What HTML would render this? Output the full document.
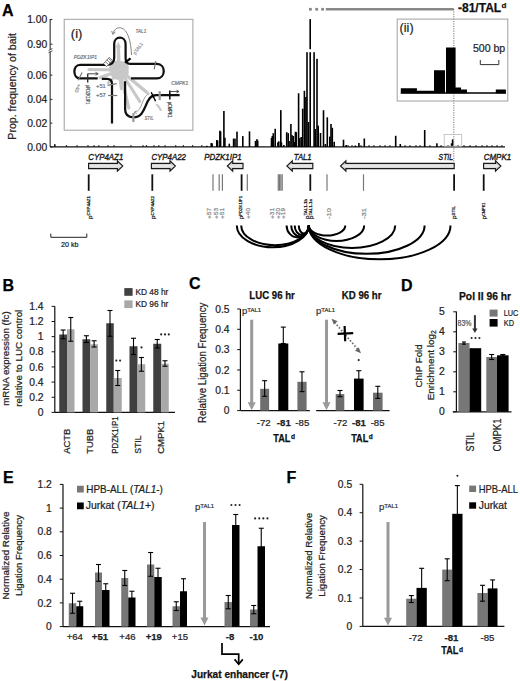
<!DOCTYPE html>
<html><head><meta charset="utf-8"><style>
html,body{margin:0;padding:0;background:#fff;}
body{width:520px;height:681px;overflow:hidden;font-family:"Liberation Sans",sans-serif;}
svg{display:block;}
</style></head><body>
<svg width="520" height="681" viewBox="0 0 520 681" font-family='"Liberation Sans", sans-serif'><text x="2" y="15.5" font-size="16" font-weight="bold" stroke="#000" stroke-width="0.25" >A</text>
<line x1="50.2" y1="19" x2="50.2" y2="49.3" stroke="#666" stroke-width="1.5" />
<line x1="50.2" y1="51.6" x2="50.2" y2="147" stroke="#666" stroke-width="1.5" />
<line x1="48.6" y1="50.4" x2="52.4" y2="48.6" stroke="#444" stroke-width="1" />
<line x1="48.6" y1="52.6" x2="52.4" y2="50.8" stroke="#444" stroke-width="1" />
<line x1="50.2" y1="19.5" x2="52.4" y2="19.5" stroke="#333" stroke-width="1.1" />
<text x="47.2" y="23.1" font-size="10.3" text-anchor="end" fill="#222" stroke="#222" stroke-width="0.22" >1.00</text>
<line x1="50.2" y1="44.2" x2="52.4" y2="44.2" stroke="#333" stroke-width="1.1" />
<text x="47.2" y="47.8" font-size="10.3" text-anchor="end" fill="#222" stroke="#222" stroke-width="0.22" >0.90</text>
<line x1="50.2" y1="75.1" x2="52.4" y2="75.1" stroke="#333" stroke-width="1.1" />
<text x="47.2" y="78.7" font-size="10.3" text-anchor="end" fill="#222" stroke="#222" stroke-width="0.22" >0.06</text>
<line x1="50.2" y1="99.4" x2="52.4" y2="99.4" stroke="#333" stroke-width="1.1" />
<text x="47.2" y="103" font-size="10.3" text-anchor="end" fill="#222" stroke="#222" stroke-width="0.22" >0.04</text>
<line x1="50.2" y1="123.1" x2="52.4" y2="123.1" stroke="#333" stroke-width="1.1" />
<text x="47.2" y="126.7" font-size="10.3" text-anchor="end" fill="#222" stroke="#222" stroke-width="0.22" >0.02</text>
<line x1="50.2" y1="147" x2="52.4" y2="147" stroke="#333" stroke-width="1.1" />
<text x="47.2" y="150.6" font-size="10.3" text-anchor="end" fill="#222" stroke="#222" stroke-width="0.22" >0.00</text>
<text transform="translate(15.9,86.4) rotate(-90)" font-size="10.6" text-anchor="middle" fill="#222" stroke="#222" stroke-width="0.22" textLength="106.5" lengthAdjust="spacingAndGlyphs" >Prop. frequency of bait</text>
<line x1="50.2" y1="146.9" x2="505" y2="146.9" stroke="#111" stroke-width="1.3" />
<rect x="65.9" y="145.2" width="1.2" height="1.5" fill="#111" />
<rect x="76.4" y="145.2" width="1.2" height="1.5" fill="#111" />
<rect x="87.4" y="145.2" width="1.2" height="1.5" fill="#111" />
<rect x="93.4" y="145.2" width="1.2" height="1.5" fill="#111" />
<rect x="98.2" y="145.2" width="1.2" height="1.5" fill="#111" />
<rect x="107.4" y="145.2" width="1.2" height="1.5" fill="#111" />
<rect x="113.4" y="145.2" width="1.2" height="1.5" fill="#111" />
<rect x="130.4" y="145.2" width="1.2" height="1.5" fill="#111" />
<rect x="142.4" y="145.2" width="1.2" height="1.5" fill="#111" />
<rect x="145.9" y="145.2" width="1.2" height="1.5" fill="#111" />
<rect x="153.4" y="145.2" width="1.2" height="1.5" fill="#111" />
<rect x="158.2" y="145.2" width="1.2" height="1.5" fill="#111" />
<rect x="164.4" y="145.2" width="1.2" height="1.5" fill="#111" />
<rect x="175.1" y="145.2" width="1.2" height="1.5" fill="#111" />
<rect x="182.8" y="145.2" width="1.2" height="1.5" fill="#111" />
<rect x="192" y="145.2" width="1.2" height="1.5" fill="#111" />
<rect x="201.2" y="145.2" width="1.2" height="1.5" fill="#111" />
<rect x="347.4" y="145.2" width="1.2" height="1.5" fill="#111" />
<rect x="351.4" y="145.2" width="1.2" height="1.5" fill="#111" />
<rect x="360.4" y="145.2" width="1.2" height="1.5" fill="#111" />
<rect x="368.4" y="145.2" width="1.2" height="1.5" fill="#111" />
<rect x="373.4" y="145.2" width="1.2" height="1.5" fill="#111" />
<rect x="379.4" y="145.2" width="1.2" height="1.5" fill="#111" />
<rect x="384.4" y="145.2" width="1.2" height="1.5" fill="#111" />
<rect x="389.4" y="145.2" width="1.2" height="1.5" fill="#111" />
<rect x="404.4" y="145.2" width="1.2" height="1.5" fill="#111" />
<rect x="409.4" y="145.2" width="1.2" height="1.5" fill="#111" />
<rect x="415.4" y="145.2" width="1.2" height="1.5" fill="#111" />
<rect x="419.4" y="145.2" width="1.2" height="1.5" fill="#111" />
<rect x="429.4" y="145.2" width="1.2" height="1.5" fill="#111" />
<rect x="440.4" y="145.2" width="1.2" height="1.5" fill="#111" />
<rect x="447.4" y="145.2" width="1.2" height="1.5" fill="#111" />
<rect x="457.4" y="145.2" width="1.2" height="1.5" fill="#111" />
<rect x="463.4" y="145.2" width="1.2" height="1.5" fill="#111" />
<rect x="469.4" y="145.2" width="1.2" height="1.5" fill="#111" />
<rect x="475.4" y="145.2" width="1.2" height="1.5" fill="#111" />
<rect x="481.4" y="145.2" width="1.2" height="1.5" fill="#111" />
<rect x="486.4" y="145.2" width="1.2" height="1.5" fill="#111" />
<rect x="491.4" y="145.2" width="1.2" height="1.5" fill="#111" />
<rect x="496.4" y="145.2" width="1.2" height="1.5" fill="#111" />
<rect x="501.4" y="145.2" width="1.2" height="1.5" fill="#111" />
<rect x="54" y="144.2" width="1.6" height="2.6" fill="#111" />
<rect x="206" y="145.8" width="1.6" height="1.2" fill="#000" />
<rect x="210.4" y="143.1" width="1.6" height="3.9" fill="#000" />
<rect x="211.3" y="143.3" width="1.6" height="3.7" fill="#000" />
<rect x="216" y="140.1" width="1.6" height="6.9" fill="#000" />
<rect x="216.8" y="140.4" width="1.6" height="6.6" fill="#000" />
<rect x="219.1" y="130.7" width="1.6" height="16.3" fill="#000" />
<rect x="219.8" y="131.5" width="1.6" height="15.5" fill="#000" />
<rect x="223.1" y="111" width="1.6" height="36" fill="#000" />
<rect x="224.1" y="137.7" width="1.6" height="9.3" fill="#000" />
<rect x="228.5" y="143.7" width="1.6" height="3.3" fill="#000" />
<rect x="232.8" y="138.6" width="1.6" height="8.4" fill="#000" />
<rect x="234.2" y="138.6" width="1.6" height="8.4" fill="#000" />
<rect x="236.2" y="131.6" width="1.6" height="15.4" fill="#000" />
<rect x="242" y="136.1" width="1.6" height="10.9" fill="#000" />
<rect x="248.7" y="131.4" width="1.6" height="15.6" fill="#000" />
<rect x="254.7" y="140.9" width="1.6" height="6.1" fill="#000" />
<rect x="256.1" y="139.2" width="1.6" height="7.8" fill="#000" />
<rect x="256.9" y="140.5" width="1.6" height="6.5" fill="#000" />
<rect x="270.7" y="138" width="1.6" height="9" fill="#000" />
<rect x="271.5" y="136" width="1.6" height="11" fill="#000" />
<rect x="272.5" y="133.2" width="1.6" height="13.8" fill="#000" />
<rect x="274.4" y="128.8" width="1.6" height="18.2" fill="#000" />
<rect x="277.1" y="142.3" width="1.6" height="4.7" fill="#000" />
<rect x="278" y="141.3" width="1.6" height="5.7" fill="#000" />
<rect x="280" y="110.1" width="1.6" height="36.9" fill="#000" />
<rect x="280.6" y="142.3" width="1.6" height="4.7" fill="#000" />
<rect x="283" y="145" width="1.6" height="2" fill="#000" />
<rect x="285.9" y="132.2" width="1.6" height="14.8" fill="#000" />
<rect x="287.4" y="133.2" width="1.6" height="13.8" fill="#000" />
<rect x="288.3" y="141" width="1.6" height="6" fill="#000" />
<rect x="290.1" y="124" width="1.6" height="23" fill="#000" />
<rect x="291.2" y="135.1" width="1.6" height="11.9" fill="#000" />
<rect x="292.5" y="136" width="1.6" height="11" fill="#000" />
<rect x="293.6" y="141.8" width="1.6" height="5.2" fill="#000" />
<rect x="294.6" y="131.7" width="1.6" height="15.3" fill="#000" />
<rect x="295.5" y="132.2" width="1.6" height="14.8" fill="#000" />
<rect x="297.8" y="93.3" width="1.6" height="53.7" fill="#000" />
<rect x="298.9" y="138" width="1.6" height="9" fill="#000" />
<rect x="300.4" y="137" width="1.6" height="10" fill="#000" />
<rect x="301.9" y="108.7" width="1.6" height="38.3" fill="#000" />
<rect x="303.6" y="90.8" width="1.6" height="56.2" fill="#000" />
<rect x="305.1" y="97" width="1.6" height="50" fill="#000" />
<rect x="306.2" y="52.2" width="1.6" height="94.8" fill="#000" />
<rect x="307.7" y="122" width="1.6" height="25" fill="#000" />
<rect x="309.4" y="52.2" width="1.6" height="94.8" fill="#000" />
<rect x="313.3" y="52.2" width="1.6" height="94.8" fill="#000" />
<rect x="314.4" y="129" width="1.6" height="18" fill="#000" />
<rect x="316.2" y="58.8" width="1.6" height="88.2" fill="#000" />
<rect x="317.4" y="125.6" width="1.6" height="21.4" fill="#000" />
<rect x="319.7" y="133" width="1.6" height="14" fill="#000" />
<rect x="322.7" y="110.2" width="1.6" height="36.8" fill="#000" />
<rect x="324.6" y="144" width="1.6" height="3" fill="#000" />
<rect x="326.5" y="117.3" width="1.6" height="29.7" fill="#000" />
<rect x="329" y="136.6" width="1.6" height="10.4" fill="#000" />
<rect x="330.2" y="124" width="1.6" height="23" fill="#000" />
<rect x="331.5" y="127.8" width="1.6" height="19.2" fill="#000" />
<rect x="333.4" y="141.8" width="1.6" height="5.2" fill="#000" />
<rect x="342.7" y="139.7" width="1.6" height="7.3" fill="#000" />
<rect x="345.4" y="145" width="1.6" height="2" fill="#000" />
<rect x="354.6" y="145.5" width="1.6" height="1.5" fill="#000" />
<rect x="358.1" y="143" width="1.6" height="4" fill="#000" />
<rect x="363.5" y="138.5" width="1.6" height="8.5" fill="#000" />
<rect x="394.9" y="135.8" width="1.6" height="11.2" fill="#000" />
<rect x="399.5" y="144" width="1.6" height="3" fill="#000" />
<rect x="423.9" y="130" width="1.6" height="17" fill="#000" />
<rect x="436.1" y="143.3" width="1.6" height="3.7" fill="#000" />
<rect x="450.8" y="143.3" width="1.6" height="3.7" fill="#000" />
<rect x="451.8" y="139.4" width="1.6" height="7.6" fill="#000" />
<rect x="309.4" y="19.1" width="1.6" height="30.1" fill="#000" />
<rect x="309" y="7.9" width="2.8" height="2.7" fill="#888" />
<rect x="315.3" y="7.9" width="2.8" height="2.7" fill="#888" />
<rect x="321.2" y="7.9" width="2.8" height="2.7" fill="#888" />
<rect x="325.8" y="8" width="127.9" height="2.5" fill="#888" />
<line x1="453.8" y1="9" x2="453.8" y2="162.5" stroke="#555" stroke-width="0.8" stroke-dasharray="1.2,1.2"/>
<text x="458" y="12.4" font-size="12" font-weight="bold" fill="#111" stroke="#111" stroke-width="0.25" textLength="43.2" lengthAdjust="spacingAndGlyphs" >-81/TAL</text>
<text x="501.6" y="8.2" font-size="8" font-weight="bold" fill="#111" stroke="#111" stroke-width="0.25" >d</text>
<rect x="397.2" y="19.1" width="110.6" height="81.9" fill="none" stroke="#a0a0a0" stroke-width="1"/>
<text x="399.6" y="32.3" font-size="13" fill="#222" stroke="#222" stroke-width="0.22" textLength="14" lengthAdjust="spacingAndGlyphs" >(ii)</text>
<text x="472.9" y="52.3" font-size="10.3" fill="#222" stroke="#222" stroke-width="0.22" textLength="32.3" lengthAdjust="spacingAndGlyphs" >500 bp</text>
<path d="M480.3,60 V64.6 H498.8 V60" stroke="#333" stroke-width="1" fill="none" />
<path d="M400.8,93.3 V88.3 H416.9 V90.7 H434 V70.3 H445 V93.3 Z" stroke="none" stroke-width="1" fill="#000" />
<path d="M446,93.3 V47.5 H455.6 V87.6 H461 V89.5 H467 V93.3 Z" stroke="none" stroke-width="1" fill="#000" />
<path d="M495.8,93.3 V89.5 H505.9 V93.3 Z" stroke="none" stroke-width="1" fill="#000" />
<line x1="400.8" y1="93.1" x2="505.9" y2="93.1" stroke="#000" stroke-width="1.5" />
<rect x="444.2" y="134.4" width="17.5" height="11.8" fill="none" stroke="#bbb" stroke-width="0.8"/>
<rect x="64.2" y="19.3" width="128.7" height="110.9" fill="none" stroke="#a0a0a0" stroke-width="1"/>
<text x="70.8" y="37.8" font-size="13" fill="#222" stroke="#222" stroke-width="0.22" >(i)</text>
<line x1="119" y1="70" x2="118.3" y2="46" stroke="#c8c8c8" stroke-width="3.4" stroke-linecap="round"/>
<line x1="119" y1="70" x2="89" y2="69.5" stroke="#c8c8c8" stroke-width="3.2" stroke-linecap="round"/>
<line x1="119" y1="71" x2="100" y2="77.5" stroke="#c8c8c8" stroke-width="3.2" stroke-linecap="round"/>
<line x1="119" y1="71" x2="121.3" y2="88.8" stroke="#c8c8c8" stroke-width="3" stroke-linecap="round"/>
<line x1="120" y1="72" x2="128.8" y2="108" stroke="#c8c8c8" stroke-width="3.2" stroke-linecap="round"/>
<line x1="121" y1="72" x2="139.8" y2="101.5" stroke="#c8c8c8" stroke-width="3.2" stroke-linecap="round"/>
<line x1="121" y1="71" x2="147" y2="92.5" stroke="#c8c8c8" stroke-width="3.4" stroke-linecap="round"/>
<line x1="120" y1="72" x2="108" y2="83" stroke="#c8c8c8" stroke-width="2.5" stroke-linecap="round"/>
<path d="M115.6,47.5 L118.3,41.8 L121,47.5 Z" stroke="none" stroke-width="1" fill="#c8c8c8" />
<path d="M110,66 C111,61 116,59.5 120,61 C126,60.5 130,65 128.5,70 C130,75 126,80 121,79 C116,81 110,78 111,73 C108,71 108,68 110,66 Z" stroke="none" stroke-width="1" fill="#c8c8c8" />
<path d="M106.4,64.8 H80 C72.5,64.8 72.5,78.4 80,78.4 H97.7" stroke="#111" stroke-width="2.25" fill="none" />
<path d="M106.4,64.8 C110.5,64.8 114.2,63 114.2,58 V44 C114.2,35.6 125.6,35.6 125.6,44 V58 C125.6,62.5 127,63.9 130,63.9 H157 C166,63.9 166,78.4 157,78.4 H131" stroke="#111" stroke-width="2.25" fill="none" />
<path d="M101.8,78.8 H107 C110.5,78.8 112,80.5 112,84 V123.5" stroke="#111" stroke-width="2.25" fill="none" />
<path d="M125.1,81.3 V109 C125.1,114.5 128,117.3 133.4,117.3 C141,117.3 143.5,111 145.6,106 C148,99.5 150.5,95.1 156,95.1 H179.6" stroke="#111" stroke-width="2.25" fill="none" />
<path d="M149.5,93.6 C145,95 143.5,100 141.5,105 C139.5,110 137.5,112 134.5,112.3" stroke="#777" stroke-width="0.7" fill="none" />
<path d="M136.5,110.8 L134,112.4 L136.8,113.6" stroke="#777" stroke-width="0.7" fill="none" />
<line x1="125" y1="62.6" x2="130.6" y2="58.3" stroke="#000" stroke-width="2.2" />
<line x1="87.7" y1="73.8" x2="87.7" y2="82.5" stroke="#333" stroke-width="1.4" />
<line x1="87.7" y1="73.8" x2="97.5" y2="73.8" stroke="#444" stroke-width="1" />
<path d="M95.5,72.3 L98.3,73.8 L95.5,75.3" stroke="#444" stroke-width="0.9" fill="none" />
<line x1="169.8" y1="90.6" x2="169.8" y2="99.5" stroke="#111" stroke-width="1.6" />
<line x1="169.8" y1="91.5" x2="178.5" y2="91.5" stroke="#444" stroke-width="0.9" />
<path d="M176.5,90.1 L179,91.5 L176.5,92.9" stroke="#444" stroke-width="0.9" fill="none" />
<line x1="151.2" y1="92.3" x2="155.6" y2="101.2" stroke="#000" stroke-width="1.4" />
<line x1="78.1" y1="80.2" x2="82.1" y2="72.5" stroke="#777" stroke-width="1.2" />
<line x1="107.5" y1="85.4" x2="116.7" y2="83.6" stroke="#777" stroke-width="1.2" />
<line x1="108.1" y1="95.5" x2="117.3" y2="95.5" stroke="#777" stroke-width="1.2" />
<line x1="155.8" y1="61.2" x2="154.2" y2="69.5" stroke="#777" stroke-width="1.2" />
<line x1="159.7" y1="91.2" x2="159.7" y2="100.1" stroke="#999" stroke-width="2.2" />
<line x1="133.4" y1="113" x2="133.4" y2="122" stroke="#999" stroke-width="2.2" />
<g transform="translate(108,62) rotate(-48)"><rect x="-4.2" y="-2.2" width="8.4" height="4.4" fill="#fff" stroke="#666" stroke-width="0.8"/><path d="M-1.6,-2.2 V2.2 M0.8,-2.2 V2.2 M3,-2.2 V2.2" stroke="#666" stroke-width="0.8"/></g>
<path d="M131.5,55 C131,42 128,29 120.6,27.8 C116.5,27.3 114,30 113,33.5" stroke="#777" stroke-width="0.9" fill="none" />
<path d="M111.6,31 L113,34.5 L115.3,31.8" stroke="#777" stroke-width="0.9" fill="none" />
<path d="M156.2,104 C158.5,106 160,108.5 161.2,110.7" stroke="#c8c8c8" stroke-width="2.2" fill="none" />
<text x="135.6" y="33.3" font-size="5.8" font-style="italic" fill="#777" stroke="#777" stroke-width="0.22" textLength="10.6" lengthAdjust="spacingAndGlyphs" >TAL1</text>
<text x="73.8" y="59.4" font-size="5.8" font-style="italic" fill="#777" stroke="#777" stroke-width="0.22" textLength="23.2" lengthAdjust="spacingAndGlyphs" >PDZK1IP1</text>
<text x="171.2" y="85" font-size="5.8" font-style="italic" fill="#777" stroke="#777" stroke-width="0.22" textLength="17.2" lengthAdjust="spacingAndGlyphs" >CMPK1</text>
<text x="144.5" y="120.4" font-size="5.8" font-style="italic" fill="#777" stroke="#777" stroke-width="0.22" textLength="9" lengthAdjust="spacingAndGlyphs" >STIL</text>
<text x="96" y="88.2" font-size="5.8" fill="#777" stroke="#777" stroke-width="0.22" >+51</text>
<text x="96" y="97.4" font-size="5.8" fill="#777" stroke="#777" stroke-width="0.22" >+57</text>
<text transform="translate(77.5,83.5) rotate(110)" font-size="5.2" fill="#999" stroke="#999" stroke-width="0.22" >+40</text>
<text transform="translate(85.9,84.8) rotate(90)" font-size="4.6" fill="#666" stroke="#666" stroke-width="0.22" textLength="19.5" lengthAdjust="spacingAndGlyphs" >pPDZK1IP1</text>
<text transform="translate(167.8,101.8) rotate(90)" font-size="4.6" fill="#444" stroke="#444" stroke-width="0.22" textLength="16" lengthAdjust="spacingAndGlyphs" >pCMPK1</text>
<text transform="translate(135.5,55) rotate(-55)" font-size="4.8" fill="#999" stroke="#999" stroke-width="0.22" >pTAL1</text>
<defs><linearGradient id="ag" x1="0" y1="0" x2="0" y2="1"><stop offset="0" stop-color="#a8a8a8"/><stop offset="0.5" stop-color="#ececec"/><stop offset="1" stop-color="#a8a8a8"/></linearGradient></defs>
<path d="M88.6,163.35 H117.4 V160.8 L122.8,166 L117.4,171.2 V168.65 H88.6 Z" stroke="#1a1a1a" stroke-width="1.15" fill="url(#ag)" stroke-linejoin="miter"/>
<path d="M151.4,163.35 H170 V160.8 L175.4,166 L170,171.2 V168.65 H151.4 Z" stroke="#1a1a1a" stroke-width="1.15" fill="url(#ag)" stroke-linejoin="miter"/>
<path d="M243,163.35 H232.7 V160.8 L227.3,166 L232.7,171.2 V168.65 H243 Z" stroke="#1a1a1a" stroke-width="1.15" fill="url(#ag)" stroke-linejoin="miter"/>
<path d="M312.8,163.35 H292.3 V160.8 L286.9,166 L292.3,171.2 V168.65 H312.8 Z" stroke="#1a1a1a" stroke-width="1.15" fill="url(#ag)" stroke-linejoin="miter"/>
<path d="M454.2,163.35 H345.9 V160.8 L340.5,166 L345.9,171.2 V168.65 H454.2 Z" stroke="#1a1a1a" stroke-width="1.15" fill="url(#ag)" stroke-linejoin="miter"/>
<path d="M483.6,163.35 H495.5 V160.8 L500.9,166 L495.5,171.2 V168.65 H483.6 Z" stroke="#1a1a1a" stroke-width="1.15" fill="url(#ag)" stroke-linejoin="miter"/>
<text x="88.3" y="159.6" font-size="9.8" font-style="italic" fill="#1a1a1a" stroke="#1a1a1a" stroke-width="0.4" textLength="35" lengthAdjust="spacingAndGlyphs" >CYP4AZ1</text>
<text x="151.4" y="159.6" font-size="9.8" font-style="italic" fill="#1a1a1a" stroke="#1a1a1a" stroke-width="0.4" textLength="34.5" lengthAdjust="spacingAndGlyphs" >CYP4A22</text>
<text x="204.3" y="159.6" font-size="9.8" font-style="italic" fill="#1a1a1a" stroke="#1a1a1a" stroke-width="0.4" textLength="37.3" lengthAdjust="spacingAndGlyphs" >PDZK1IP1</text>
<text x="293.8" y="159.6" font-size="9.8" font-style="italic" fill="#1a1a1a" stroke="#1a1a1a" stroke-width="0.4" textLength="17.8" lengthAdjust="spacingAndGlyphs" >TAL1</text>
<text x="438.6" y="159.6" font-size="9.8" font-style="italic" fill="#1a1a1a" stroke="#1a1a1a" stroke-width="0.4" textLength="14.5" lengthAdjust="spacingAndGlyphs" >STIL</text>
<text x="483.7" y="159.6" font-size="9.8" font-style="italic" fill="#1a1a1a" stroke="#1a1a1a" stroke-width="0.4" textLength="27.5" lengthAdjust="spacingAndGlyphs" >CMPK1</text>
<line x1="88.7" y1="174.3" x2="88.7" y2="190.8" stroke="#111" stroke-width="1.8" />
<line x1="152.3" y1="174.3" x2="152.3" y2="190.8" stroke="#111" stroke-width="1.8" />
<line x1="241.6" y1="174.3" x2="241.6" y2="190.8" stroke="#111" stroke-width="1.8" />
<line x1="310.3" y1="174.3" x2="310.3" y2="190.8" stroke="#111" stroke-width="1.8" />
<line x1="454.1" y1="174.3" x2="454.1" y2="190.8" stroke="#111" stroke-width="1.8" />
<line x1="483.7" y1="174.3" x2="483.7" y2="190.8" stroke="#111" stroke-width="1.8" />
<line x1="213" y1="174.3" x2="213" y2="190.8" stroke="#777" stroke-width="1.2" />
<line x1="219.2" y1="174.3" x2="219.2" y2="190.8" stroke="#777" stroke-width="1.2" />
<line x1="222.4" y1="174.3" x2="222.4" y2="190.8" stroke="#777" stroke-width="1.2" />
<line x1="247.3" y1="174.3" x2="247.3" y2="190.8" stroke="#777" stroke-width="1.2" />
<line x1="278.3" y1="174.3" x2="278.3" y2="190.8" stroke="#777" stroke-width="1.2" />
<line x1="279.6" y1="174.3" x2="279.6" y2="190.8" stroke="#777" stroke-width="1.2" />
<line x1="280.9" y1="174.3" x2="280.9" y2="190.8" stroke="#777" stroke-width="1.2" />
<line x1="282.2" y1="174.3" x2="282.2" y2="190.8" stroke="#777" stroke-width="1.2" />
<line x1="327" y1="174.3" x2="327" y2="190.8" stroke="#777" stroke-width="1.2" />
<line x1="363.5" y1="174.3" x2="363.5" y2="190.8" stroke="#777" stroke-width="1.2" />
<text transform="translate(91.5,219) rotate(-90)" font-size="5" fill="#222" stroke="#222" stroke-width="0.22" textLength="23" lengthAdjust="spacingAndGlyphs" >p<tspan font-size="3.6" dy="-1.2">CYP4AZ1</tspan></text>
<text transform="translate(155,219) rotate(-90)" font-size="5" fill="#222" stroke="#222" stroke-width="0.22" textLength="23" lengthAdjust="spacingAndGlyphs" >p<tspan font-size="3.6" dy="-1.2">CYP4A22</tspan></text>
<text transform="translate(243,219) rotate(-90)" font-size="5" fill="#222" stroke="#222" stroke-width="0.22" textLength="23" lengthAdjust="spacingAndGlyphs" >p<tspan font-size="3.6" dy="-1.2">PDZK1IP1</tspan></text>
<text transform="translate(308.6,219) rotate(-90)" font-size="5" fill="#222" stroke="#222" stroke-width="0.22" textLength="20" lengthAdjust="spacingAndGlyphs" >p<tspan font-size="3.6" dy="-1.2">TAL1-1b</tspan></text>
<text transform="translate(313,219) rotate(-90)" font-size="5" fill="#222" stroke="#222" stroke-width="0.22" textLength="20" lengthAdjust="spacingAndGlyphs" >p<tspan font-size="3.6" dy="-1.2">TAL1-1a</tspan></text>
<text transform="translate(456,219) rotate(-90)" font-size="5" fill="#222" stroke="#222" stroke-width="0.22" textLength="13" lengthAdjust="spacingAndGlyphs" >p<tspan font-size="3.6" dy="-1.2">STIL</tspan></text>
<text transform="translate(486,219) rotate(-90)" font-size="5" fill="#222" stroke="#222" stroke-width="0.22" textLength="16.5" lengthAdjust="spacingAndGlyphs" >p<tspan font-size="3.6" dy="-1.2">CMPK1</tspan></text>
<text transform="translate(211.3,219) rotate(-90)" font-size="6.2" fill="#888" stroke="#888" stroke-width="0.22" textLength="11" lengthAdjust="spacingAndGlyphs" >+57</text>
<text transform="translate(217.5,219) rotate(-90)" font-size="6.2" fill="#888" stroke="#888" stroke-width="0.22" textLength="11" lengthAdjust="spacingAndGlyphs" >+53</text>
<text transform="translate(224,219) rotate(-90)" font-size="6.2" fill="#888" stroke="#888" stroke-width="0.22" textLength="11" lengthAdjust="spacingAndGlyphs" >+51</text>
<text transform="translate(250,219) rotate(-90)" font-size="6.2" fill="#888" stroke="#888" stroke-width="0.22" textLength="11" lengthAdjust="spacingAndGlyphs" >+40</text>
<text transform="translate(274,219) rotate(-90)" font-size="6.2" fill="#888" stroke="#888" stroke-width="0.22" textLength="11" lengthAdjust="spacingAndGlyphs" >+31</text>
<text transform="translate(279.5,219) rotate(-90)" font-size="6.2" fill="#888" stroke="#888" stroke-width="0.22" textLength="11" lengthAdjust="spacingAndGlyphs" >+20</text>
<text transform="translate(285,219) rotate(-90)" font-size="6.2" fill="#888" stroke="#888" stroke-width="0.22" textLength="11" lengthAdjust="spacingAndGlyphs" >+19</text>
<text transform="translate(330.5,219) rotate(-90)" font-size="6.2" fill="#888" stroke="#888" stroke-width="0.22" textLength="11" lengthAdjust="spacingAndGlyphs" >-10</text>
<text transform="translate(366,219) rotate(-90)" font-size="6.2" fill="#888" stroke="#888" stroke-width="0.22" textLength="11" lengthAdjust="spacingAndGlyphs" >-31</text>
<path d="M50.8,233.6 V237.3 H86.8 V233.6" stroke="#222" stroke-width="1" fill="none" />
<text x="61" y="246.5" font-size="7.4" fill="#222" stroke="#222" stroke-width="0.22" textLength="17.5" lengthAdjust="spacingAndGlyphs" >20 kb</text>
<path d="M236.8,225.4 A36,21.9 0 0 0 308.8,225.4" stroke="#000" stroke-width="2" fill="none" />
<path d="M241.2,225.4 A33.8,19.8 0 0 0 308.8,225.4" stroke="#000" stroke-width="2" fill="none" />
<path d="M286.6,225.4 A11.1,12.1 0 0 0 308.8,225.4" stroke="#000" stroke-width="2" fill="none" />
<path d="M291.2,225.4 A8.8,10.8 0 0 0 308.8,225.4" stroke="#000" stroke-width="2" fill="none" />
<path d="M294.7,225.4 A7.05,9.6 0 0 0 308.8,225.4" stroke="#000" stroke-width="2" fill="none" />
<path d="M298.8,225.4 A5,8.1 0 0 0 308.8,225.4" stroke="#000" stroke-width="2" fill="none" />
<path d="M308.8,225.4 A18.25,10.1 0 0 0 345.3,225.4" stroke="#000" stroke-width="2" fill="none" />
<path d="M308.8,225.4 A27.7,15.6 0 0 0 364.2,225.4" stroke="#000" stroke-width="2" fill="none" />
<path d="M308.8,225.4 A43.2,22.5 0 0 0 395.2,225.4" stroke="#000" stroke-width="2" fill="none" />
<path d="M308.8,225.4 A57.9,28.4 0 0 0 424.6,225.4" stroke="#000" stroke-width="2" fill="none" />
<path d="M308.8,225.4 A70.85,33.9 0 0 0 450.5,225.4" stroke="#000" stroke-width="2" fill="none" />
<text x="2.5" y="291" font-size="16" font-weight="bold" stroke="#000" stroke-width="0.25" >B</text>
<line x1="54.8" y1="306.2" x2="54.8" y2="412.4" stroke="#111" stroke-width="1.2" />
<line x1="51.6" y1="412.4" x2="54.8" y2="412.4" stroke="#111" stroke-width="1" />
<text x="43.5" y="416" font-size="10.3" text-anchor="end" fill="#222" stroke="#222" stroke-width="0.22" >0</text>
<line x1="51.6" y1="397.25" x2="54.8" y2="397.25" stroke="#111" stroke-width="1" />
<text x="43.5" y="400.85" font-size="10.3" text-anchor="end" fill="#222" stroke="#222" stroke-width="0.22" >0.2</text>
<line x1="51.6" y1="382.1" x2="54.8" y2="382.1" stroke="#111" stroke-width="1" />
<text x="43.5" y="385.7" font-size="10.3" text-anchor="end" fill="#222" stroke="#222" stroke-width="0.22" >0.4</text>
<line x1="51.6" y1="366.95" x2="54.8" y2="366.95" stroke="#111" stroke-width="1" />
<text x="43.5" y="370.55" font-size="10.3" text-anchor="end" fill="#222" stroke="#222" stroke-width="0.22" >0.6</text>
<line x1="51.6" y1="351.8" x2="54.8" y2="351.8" stroke="#111" stroke-width="1" />
<text x="43.5" y="355.4" font-size="10.3" text-anchor="end" fill="#222" stroke="#222" stroke-width="0.22" >0.8</text>
<line x1="51.6" y1="336.65" x2="54.8" y2="336.65" stroke="#111" stroke-width="1" />
<text x="43.5" y="340.25" font-size="10.3" text-anchor="end" fill="#222" stroke="#222" stroke-width="0.22" >1</text>
<line x1="51.6" y1="321.5" x2="54.8" y2="321.5" stroke="#111" stroke-width="1" />
<text x="43.5" y="325.1" font-size="10.3" text-anchor="end" fill="#222" stroke="#222" stroke-width="0.22" >1.2</text>
<line x1="51.6" y1="306.35" x2="54.8" y2="306.35" stroke="#111" stroke-width="1" />
<text x="43.5" y="309.95" font-size="10.3" text-anchor="end" fill="#222" stroke="#222" stroke-width="0.22" >1.4</text>
<line x1="54.8" y1="412.4" x2="175" y2="412.4" stroke="#111" stroke-width="1.3" />
<rect x="59.25" y="334.5" width="7.75" height="77.9" fill="#404040" />
<line x1="63.12" y1="330" x2="63.12" y2="338.75" stroke="#000" stroke-width="1.1" />
<line x1="60.62" y1="330" x2="65.62" y2="330" stroke="#000" stroke-width="1.1" />
<line x1="60.62" y1="338.75" x2="65.62" y2="338.75" stroke="#000" stroke-width="1.1" />
<rect x="67" y="329.25" width="7.5" height="83.15" fill="#a8a8a8" />
<line x1="70.75" y1="317.5" x2="70.75" y2="341.25" stroke="#000" stroke-width="1.1" />
<line x1="68.25" y1="317.5" x2="73.25" y2="317.5" stroke="#000" stroke-width="1.1" />
<line x1="68.25" y1="341.25" x2="73.25" y2="341.25" stroke="#000" stroke-width="1.1" />
<rect x="82.5" y="339.25" width="7.75" height="73.15" fill="#404040" />
<line x1="86.38" y1="335.75" x2="86.38" y2="342.5" stroke="#000" stroke-width="1.1" />
<line x1="83.88" y1="335.75" x2="88.88" y2="335.75" stroke="#000" stroke-width="1.1" />
<line x1="83.88" y1="342.5" x2="88.88" y2="342.5" stroke="#000" stroke-width="1.1" />
<rect x="90.25" y="344.25" width="7.75" height="68.15" fill="#a8a8a8" />
<line x1="94.12" y1="340.75" x2="94.12" y2="347" stroke="#000" stroke-width="1.1" />
<line x1="91.62" y1="340.75" x2="96.62" y2="340.75" stroke="#000" stroke-width="1.1" />
<line x1="91.62" y1="347" x2="96.62" y2="347" stroke="#000" stroke-width="1.1" />
<rect x="106.25" y="323.25" width="7.5" height="89.15" fill="#404040" />
<line x1="110" y1="310.5" x2="110" y2="336.25" stroke="#000" stroke-width="1.1" />
<line x1="107.5" y1="310.5" x2="112.5" y2="310.5" stroke="#000" stroke-width="1.1" />
<line x1="107.5" y1="336.25" x2="112.5" y2="336.25" stroke="#000" stroke-width="1.1" />
<rect x="113.75" y="378" width="8" height="34.4" fill="#a8a8a8" />
<line x1="117.75" y1="370.5" x2="117.75" y2="385.5" stroke="#000" stroke-width="1.1" />
<line x1="115.25" y1="370.5" x2="120.25" y2="370.5" stroke="#000" stroke-width="1.1" />
<line x1="115.25" y1="385.5" x2="120.25" y2="385.5" stroke="#000" stroke-width="1.1" />
<rect x="129.5" y="346.25" width="8" height="66.15" fill="#404040" />
<line x1="133.5" y1="338.25" x2="133.5" y2="354.5" stroke="#000" stroke-width="1.1" />
<line x1="131" y1="338.25" x2="136" y2="338.25" stroke="#000" stroke-width="1.1" />
<line x1="131" y1="354.5" x2="136" y2="354.5" stroke="#000" stroke-width="1.1" />
<rect x="137.5" y="364.25" width="7.75" height="48.15" fill="#a8a8a8" />
<line x1="141.38" y1="357.5" x2="141.38" y2="371.25" stroke="#000" stroke-width="1.1" />
<line x1="138.88" y1="357.5" x2="143.88" y2="357.5" stroke="#000" stroke-width="1.1" />
<line x1="138.88" y1="371.25" x2="143.88" y2="371.25" stroke="#000" stroke-width="1.1" />
<rect x="153.25" y="343.75" width="8" height="68.65" fill="#404040" />
<line x1="157.25" y1="339.5" x2="157.25" y2="348" stroke="#000" stroke-width="1.1" />
<line x1="154.75" y1="339.5" x2="159.75" y2="339.5" stroke="#000" stroke-width="1.1" />
<line x1="154.75" y1="348" x2="159.75" y2="348" stroke="#000" stroke-width="1.1" />
<rect x="161.25" y="363.75" width="7.5" height="48.65" fill="#a8a8a8" />
<line x1="165" y1="360.75" x2="165" y2="366.25" stroke="#000" stroke-width="1.1" />
<line x1="162.5" y1="360.75" x2="167.5" y2="360.75" stroke="#000" stroke-width="1.1" />
<line x1="162.5" y1="366.25" x2="167.5" y2="366.25" stroke="#000" stroke-width="1.1" />
<circle cx="116.3" cy="360.6" r="1.05" fill="#222"/>
<circle cx="120.1" cy="360.6" r="1.05" fill="#222"/>
<circle cx="141.5" cy="347.4" r="1.05" fill="#222"/>
<circle cx="161.2" cy="334.4" r="1.05" fill="#222"/>
<circle cx="165" cy="334.4" r="1.05" fill="#222"/>
<circle cx="168.8" cy="334.4" r="1.05" fill="#222"/>
<rect x="124.3" y="288.1" width="8.3" height="7.7" fill="#404040" />
<text x="135.4" y="294.7" font-size="8.8" fill="#222" stroke="#222" stroke-width="0.22" textLength="33" lengthAdjust="spacingAndGlyphs" >KD 48 hr</text>
<rect x="124.3" y="300.4" width="8.3" height="7.7" fill="#a8a8a8" />
<text x="135.4" y="306.6" font-size="8.8" fill="#222" stroke="#222" stroke-width="0.22" textLength="33" lengthAdjust="spacingAndGlyphs" >KD 96 hr</text>
<text transform="translate(70.31,453.8) rotate(-90)" font-size="9.2" fill="#222" stroke="#222" stroke-width="0.22" textLength="25" lengthAdjust="spacingAndGlyphs" >ACTB</text>
<text transform="translate(93.31,453.8) rotate(-90)" font-size="9.2" fill="#222" stroke="#222" stroke-width="0.22" textLength="25" lengthAdjust="spacingAndGlyphs" >TUBB</text>
<text transform="translate(117.61,453.8) rotate(-90)" font-size="9.2" fill="#222" stroke="#222" stroke-width="0.22" textLength="37.5" lengthAdjust="spacingAndGlyphs" >PDZK1IP1</text>
<text transform="translate(140.71,453.8) rotate(-90)" font-size="9.2" fill="#222" stroke="#222" stroke-width="0.22" textLength="18.3" lengthAdjust="spacingAndGlyphs" >STIL</text>
<text transform="translate(163.91,453.8) rotate(-90)" font-size="9.2" fill="#222" stroke="#222" stroke-width="0.22" textLength="33" lengthAdjust="spacingAndGlyphs" >CMPK1</text>
<text transform="translate(8.8,358.6) rotate(-90)" font-size="9.9" text-anchor="middle" fill="#222" stroke="#222" stroke-width="0.22" textLength="94.5" lengthAdjust="spacingAndGlyphs" >mRNA expression (fc)</text>
<text transform="translate(21.5,358.2) rotate(-90)" font-size="9.9" text-anchor="middle" fill="#222" stroke="#222" stroke-width="0.22" textLength="97" lengthAdjust="spacingAndGlyphs" >relative to LUC control</text>
<text x="189" y="289" font-size="16" font-weight="bold" stroke="#000" stroke-width="0.25" >C</text>
<line x1="240.4" y1="309" x2="240.4" y2="410.6" stroke="#111" stroke-width="1.2" />
<line x1="237.2" y1="410.6" x2="240.4" y2="410.6" stroke="#111" stroke-width="1" />
<text x="229.6" y="414.2" font-size="10.3" text-anchor="end" fill="#222" stroke="#222" stroke-width="0.22" >0</text>
<line x1="237.2" y1="390.28" x2="240.4" y2="390.28" stroke="#111" stroke-width="1" />
<text x="229.6" y="393.88" font-size="10.3" text-anchor="end" fill="#222" stroke="#222" stroke-width="0.22" >0.1</text>
<line x1="237.2" y1="369.96" x2="240.4" y2="369.96" stroke="#111" stroke-width="1" />
<text x="229.6" y="373.56" font-size="10.3" text-anchor="end" fill="#222" stroke="#222" stroke-width="0.22" >0.2</text>
<line x1="237.2" y1="349.64" x2="240.4" y2="349.64" stroke="#111" stroke-width="1" />
<text x="229.6" y="353.24" font-size="10.3" text-anchor="end" fill="#222" stroke="#222" stroke-width="0.22" >0.3</text>
<line x1="237.2" y1="329.32" x2="240.4" y2="329.32" stroke="#111" stroke-width="1" />
<text x="229.6" y="332.92" font-size="10.3" text-anchor="end" fill="#222" stroke="#222" stroke-width="0.22" >0.4</text>
<line x1="237.2" y1="309" x2="240.4" y2="309" stroke="#111" stroke-width="1" />
<text x="229.6" y="312.6" font-size="10.3" text-anchor="end" fill="#222" stroke="#222" stroke-width="0.22" >0.5</text>
<text transform="translate(205.6,362.8) rotate(-90)" font-size="10" text-anchor="middle" fill="#222" stroke="#222" stroke-width="0.22" textLength="120.5" lengthAdjust="spacingAndGlyphs" >Relative Ligation Frequency</text>
<text x="249.3" y="299" font-size="10.5" font-weight="bold" fill="#111" stroke="#111" stroke-width="0.25" textLength="45.5" lengthAdjust="spacingAndGlyphs" >LUC 96 hr</text>
<text x="341.8" y="298.6" font-size="10.5" font-weight="bold" fill="#111" stroke="#111" stroke-width="0.25" textLength="39.6" lengthAdjust="spacingAndGlyphs" >KD 96 hr</text>
<line x1="240.4" y1="410.6" x2="309.8" y2="410.6" stroke="#111" stroke-width="1.3" />
<line x1="316.2" y1="410.6" x2="389.6" y2="410.6" stroke="#111" stroke-width="1.3" />
<line x1="251.7" y1="319.7" x2="251.7" y2="403.3" stroke="#9a9a9a" stroke-width="3" />
<path d="M247.7,402.3 L255.7,402.3 L251.7,410.3 Z" stroke="none" stroke-width="1" fill="#9a9a9a" />
<text x="242" y="314.3" font-size="9.5" fill="#333" stroke="#333" stroke-width="0.22" >p<tspan font-size="5.9" dy="-2.2">TAL1</tspan></text>
<rect x="260.2" y="388.8" width="8.9" height="21.8" fill="#6e6e6e" />
<line x1="264.65" y1="380.7" x2="264.65" y2="396.3" stroke="#000" stroke-width="1.1" />
<line x1="262.15" y1="380.7" x2="267.15" y2="380.7" stroke="#000" stroke-width="1.1" />
<line x1="262.15" y1="396.3" x2="267.15" y2="396.3" stroke="#000" stroke-width="1.1" />
<rect x="278.3" y="343.5" width="10" height="67.1" fill="#000" />
<line x1="283.3" y1="327.1" x2="283.3" y2="343.5" stroke="#000" stroke-width="1.1" />
<line x1="280.8" y1="327.1" x2="285.8" y2="327.1" stroke="#000" stroke-width="1.1" />
<line x1="280.8" y1="343.5" x2="285.8" y2="343.5" stroke="#000" stroke-width="1.1" />
<rect x="297.4" y="381.8" width="9.2" height="28.8" fill="#6e6e6e" />
<line x1="302" y1="371.8" x2="302" y2="391.6" stroke="#000" stroke-width="1.1" />
<line x1="299.5" y1="371.8" x2="304.5" y2="371.8" stroke="#000" stroke-width="1.1" />
<line x1="299.5" y1="391.6" x2="304.5" y2="391.6" stroke="#000" stroke-width="1.1" />
<line x1="326.5" y1="319.7" x2="326.5" y2="403.3" stroke="#9a9a9a" stroke-width="3" />
<path d="M322.5,402.3 L330.5,402.3 L326.5,410.3 Z" stroke="none" stroke-width="1" fill="#9a9a9a" />
<text x="316" y="314.3" font-size="9.5" fill="#333" stroke="#333" stroke-width="0.22" >p<tspan font-size="5.9" dy="-2.2">TAL1</tspan></text>
<rect x="335.7" y="394.1" width="8.6" height="16.5" fill="#6e6e6e" />
<line x1="340" y1="390.5" x2="340" y2="396.7" stroke="#000" stroke-width="1.1" />
<line x1="337.5" y1="390.5" x2="342.5" y2="390.5" stroke="#000" stroke-width="1.1" />
<line x1="337.5" y1="396.7" x2="342.5" y2="396.7" stroke="#000" stroke-width="1.1" />
<rect x="354" y="378.6" width="9.6" height="32" fill="#000" />
<line x1="358.8" y1="370.7" x2="358.8" y2="386.1" stroke="#000" stroke-width="1.1" />
<line x1="356.3" y1="370.7" x2="361.3" y2="370.7" stroke="#000" stroke-width="1.1" />
<line x1="356.3" y1="386.1" x2="361.3" y2="386.1" stroke="#000" stroke-width="1.1" />
<rect x="373" y="392.7" width="9.6" height="17.9" fill="#6e6e6e" />
<line x1="377.8" y1="386.3" x2="377.8" y2="398.4" stroke="#000" stroke-width="1.1" />
<line x1="375.3" y1="386.3" x2="380.3" y2="386.3" stroke="#000" stroke-width="1.1" />
<line x1="375.3" y1="398.4" x2="380.3" y2="398.4" stroke="#000" stroke-width="1.1" />
<line x1="334.5" y1="322.2" x2="358.2" y2="349.8" stroke="#666" stroke-width="1.6" stroke-dasharray="1.6,1.8"/>
<path d="M331.6,318.8 L337.6,321.2 L333.8,324.4 Z" stroke="none" stroke-width="1" fill="#666" />
<path d="M361,353.2 L355,350.8 L358.8,347.6 Z" stroke="none" stroke-width="1" fill="#666" />
<line x1="337.6" y1="333.8" x2="353.2" y2="333.2" stroke="#000" stroke-width="2.2" />
<line x1="344.6" y1="326" x2="345.2" y2="341.2" stroke="#000" stroke-width="2.2" />
<circle cx="358.7" cy="360.1" r="1.05" fill="#222"/>
<text x="263.7" y="425.8" font-size="9.6" text-anchor="middle" fill="#222" stroke="#222" stroke-width="0.22" >-72</text>
<text x="283.8" y="425.8" font-size="9.6" font-weight="bold" text-anchor="middle" fill="#222" stroke="#222" stroke-width="0.25" >-81</text>
<text x="302.3" y="425.8" font-size="9.6" text-anchor="middle" fill="#222" stroke="#222" stroke-width="0.22" >-85</text>
<text x="340.5" y="425.8" font-size="9.6" text-anchor="middle" fill="#222" stroke="#222" stroke-width="0.22" >-72</text>
<text x="358.9" y="425.8" font-size="9.6" font-weight="bold" text-anchor="middle" fill="#222" stroke="#222" stroke-width="0.25" >-81</text>
<text x="377.6" y="425.8" font-size="9.6" text-anchor="middle" fill="#222" stroke="#222" stroke-width="0.22" >-85</text>
<text x="273.3" y="441.8" font-size="10.4" font-weight="bold" fill="#111" stroke="#111" stroke-width="0.25" textLength="17.2" lengthAdjust="spacingAndGlyphs" >TAL</text>
<text x="290.9" y="439.3" font-size="6.6" font-weight="bold" fill="#111" stroke="#111" stroke-width="0.25" >d</text>
<text x="351.2" y="441.8" font-size="10.4" font-weight="bold" fill="#111" stroke="#111" stroke-width="0.25" textLength="17.2" lengthAdjust="spacingAndGlyphs" >TAL</text>
<text x="368.8" y="439.3" font-size="6.6" font-weight="bold" fill="#111" stroke="#111" stroke-width="0.25" >d</text>
<text x="401" y="290.5" font-size="16" font-weight="bold" stroke="#000" stroke-width="0.25" >D</text>
<text x="459" y="299.8" font-size="10.5" font-weight="bold" fill="#111" stroke="#111" stroke-width="0.25" textLength="52" lengthAdjust="spacingAndGlyphs" >Pol II 96 hr</text>
<line x1="456.4" y1="311.6" x2="456.4" y2="411.8" stroke="#111" stroke-width="1.2" />
<line x1="453.2" y1="411.8" x2="456.4" y2="411.8" stroke="#111" stroke-width="1" />
<text x="444.8" y="415.4" font-size="10.4" text-anchor="end" fill="#222" stroke="#222" stroke-width="0.22" >0</text>
<line x1="453.2" y1="391.8" x2="456.4" y2="391.8" stroke="#111" stroke-width="1" />
<text x="444.8" y="395.4" font-size="10.4" text-anchor="end" fill="#222" stroke="#222" stroke-width="0.22" >1</text>
<line x1="453.2" y1="371.8" x2="456.4" y2="371.8" stroke="#111" stroke-width="1" />
<text x="444.8" y="375.4" font-size="10.4" text-anchor="end" fill="#222" stroke="#222" stroke-width="0.22" >2</text>
<line x1="453.2" y1="351.8" x2="456.4" y2="351.8" stroke="#111" stroke-width="1" />
<text x="444.8" y="355.4" font-size="10.4" text-anchor="end" fill="#222" stroke="#222" stroke-width="0.22" >3</text>
<line x1="453.2" y1="331.8" x2="456.4" y2="331.8" stroke="#111" stroke-width="1" />
<text x="444.8" y="335.4" font-size="10.4" text-anchor="end" fill="#222" stroke="#222" stroke-width="0.22" >4</text>
<line x1="453.2" y1="311.8" x2="456.4" y2="311.8" stroke="#111" stroke-width="1" />
<text x="444.8" y="315.4" font-size="10.4" text-anchor="end" fill="#222" stroke="#222" stroke-width="0.22" >5</text>
<line x1="452.8" y1="411.8" x2="511.5" y2="411.8" stroke="#111" stroke-width="1.3" />
<text transform="translate(421.5,365.9) rotate(-90)" font-size="9.8" text-anchor="middle" fill="#222" stroke="#222" stroke-width="0.22" textLength="43" lengthAdjust="spacingAndGlyphs" >ChIP Fold</text>
<text transform="translate(434.1,365.3) rotate(-90)" font-size="9.6" text-anchor="middle" fill="#222" stroke="#222" stroke-width="0.22" textLength="70" lengthAdjust="spacingAndGlyphs" >Enrichment log<tspan font-size="6.5" dy="2">2</tspan></text>
<rect x="458.4" y="343" width="11.1" height="68.8" fill="#777" />
<line x1="463.95" y1="342" x2="463.95" y2="344.2" stroke="#000" stroke-width="1.1" />
<line x1="461.95" y1="342" x2="465.95" y2="342" stroke="#000" stroke-width="1.1" />
<line x1="461.95" y1="344.2" x2="465.95" y2="344.2" stroke="#000" stroke-width="1.1" />
<rect x="469.5" y="348.2" width="11.7" height="63.6" fill="#000" />
<rect x="486.3" y="357" width="10.7" height="54.8" fill="#777" />
<line x1="491.65" y1="354.5" x2="491.65" y2="359.5" stroke="#000" stroke-width="1.1" />
<line x1="489.15" y1="354.5" x2="494.15" y2="354.5" stroke="#000" stroke-width="1.1" />
<line x1="489.15" y1="359.5" x2="494.15" y2="359.5" stroke="#000" stroke-width="1.1" />
<rect x="497" y="355.3" width="11.6" height="56.5" fill="#000" />
<line x1="502.8" y1="354.5" x2="502.8" y2="356" stroke="#000" stroke-width="1.1" />
<line x1="500.3" y1="354.5" x2="505.3" y2="354.5" stroke="#000" stroke-width="1.1" />
<line x1="500.3" y1="356" x2="505.3" y2="356" stroke="#000" stroke-width="1.1" />
<rect x="489.6" y="309.6" width="8" height="7" fill="#777" />
<text x="503.8" y="315.8" font-size="8.6" fill="#222" stroke="#222" stroke-width="0.22" textLength="14.6" lengthAdjust="spacingAndGlyphs" >LUC</text>
<rect x="489.6" y="319" width="8" height="7.6" fill="#000" />
<text x="503.8" y="325.9" font-size="8.6" fill="#222" stroke="#222" stroke-width="0.22" textLength="10.3" lengthAdjust="spacingAndGlyphs" >KD</text>
<line x1="474.9" y1="315.2" x2="474.9" y2="329.5" stroke="#333" stroke-width="2" />
<path d="M472.2,328.6 L477.6,328.6 L474.9,333 Z" stroke="none" stroke-width="1" fill="#333" />
<text x="457.5" y="326.2" font-size="8.6" fill="#555" stroke="#555" stroke-width="0.22" textLength="14" lengthAdjust="spacingAndGlyphs" >83%</text>
<circle cx="471.6" cy="338" r="1.05" fill="#222"/>
<circle cx="475.5" cy="338" r="1.05" fill="#222"/>
<circle cx="479.4" cy="338" r="1.05" fill="#222"/>
<text transform="translate(473.8,451.5) rotate(-90)" font-size="10.4" fill="#222" stroke="#222" stroke-width="0.22" textLength="19" lengthAdjust="spacingAndGlyphs" >STIL</text>
<text transform="translate(500.8,451.5) rotate(-90)" font-size="10.4" fill="#222" stroke="#222" stroke-width="0.22" textLength="33" lengthAdjust="spacingAndGlyphs" >CMPK1</text>
<text x="3" y="482.7" font-size="16" font-weight="bold" stroke="#000" stroke-width="0.25" >E</text>
<line x1="63" y1="484.3" x2="63" y2="626.6" stroke="#111" stroke-width="1.2" />
<line x1="59.8" y1="626.6" x2="63" y2="626.6" stroke="#111" stroke-width="1" />
<text x="51.8" y="630.2" font-size="10.3" text-anchor="end" fill="#222" stroke="#222" stroke-width="0.22" >0</text>
<line x1="59.8" y1="602.9" x2="63" y2="602.9" stroke="#111" stroke-width="1" />
<text x="51.8" y="606.5" font-size="10.3" text-anchor="end" fill="#222" stroke="#222" stroke-width="0.22" >0.2</text>
<line x1="59.8" y1="579.2" x2="63" y2="579.2" stroke="#111" stroke-width="1" />
<text x="51.8" y="582.8" font-size="10.3" text-anchor="end" fill="#222" stroke="#222" stroke-width="0.22" >0.4</text>
<line x1="59.8" y1="555.5" x2="63" y2="555.5" stroke="#111" stroke-width="1" />
<text x="51.8" y="559.1" font-size="10.3" text-anchor="end" fill="#222" stroke="#222" stroke-width="0.22" >0.6</text>
<line x1="59.8" y1="531.8" x2="63" y2="531.8" stroke="#111" stroke-width="1" />
<text x="51.8" y="535.4" font-size="10.3" text-anchor="end" fill="#222" stroke="#222" stroke-width="0.22" >0.8</text>
<line x1="59.8" y1="508.1" x2="63" y2="508.1" stroke="#111" stroke-width="1" />
<text x="51.8" y="511.7" font-size="10.3" text-anchor="end" fill="#222" stroke="#222" stroke-width="0.22" >1</text>
<line x1="59.8" y1="484.4" x2="63" y2="484.4" stroke="#111" stroke-width="1" />
<text x="51.8" y="488" font-size="10.3" text-anchor="end" fill="#222" stroke="#222" stroke-width="0.22" >1.2</text>
<line x1="63" y1="626.6" x2="270" y2="626.6" stroke="#111" stroke-width="1.3" />
<text transform="translate(8.7,555.6) rotate(-90)" font-size="8.8" text-anchor="middle" fill="#222" stroke="#222" stroke-width="0.22" textLength="88" lengthAdjust="spacingAndGlyphs" >Normalized Relative</text>
<text transform="translate(21.6,555.6) rotate(-90)" font-size="8.8" text-anchor="middle" fill="#222" stroke="#222" stroke-width="0.22" textLength="81" lengthAdjust="spacingAndGlyphs" >Ligation Frequency</text>
<rect x="68.75" y="603.25" width="7.5" height="23.35" fill="#777" />
<line x1="72.5" y1="593.25" x2="72.5" y2="613.25" stroke="#000" stroke-width="1.1" />
<line x1="70" y1="593.25" x2="75" y2="593.25" stroke="#000" stroke-width="1.1" />
<line x1="70" y1="613.25" x2="75" y2="613.25" stroke="#000" stroke-width="1.1" />
<rect x="76.25" y="606.25" width="7" height="20.35" fill="#000" />
<line x1="79.75" y1="601.25" x2="79.75" y2="611.25" stroke="#000" stroke-width="1.1" />
<line x1="77.25" y1="601.25" x2="82.25" y2="601.25" stroke="#000" stroke-width="1.1" />
<line x1="77.25" y1="611.25" x2="82.25" y2="611.25" stroke="#000" stroke-width="1.1" />
<rect x="95" y="572.5" width="7" height="54.1" fill="#777" />
<line x1="98.5" y1="564.5" x2="98.5" y2="581.25" stroke="#000" stroke-width="1.1" />
<line x1="96" y1="564.5" x2="101" y2="564.5" stroke="#000" stroke-width="1.1" />
<line x1="96" y1="581.25" x2="101" y2="581.25" stroke="#000" stroke-width="1.1" />
<rect x="102" y="590" width="7.5" height="36.6" fill="#000" />
<line x1="105.75" y1="583.75" x2="105.75" y2="596.25" stroke="#000" stroke-width="1.1" />
<line x1="103.25" y1="583.75" x2="108.25" y2="583.75" stroke="#000" stroke-width="1.1" />
<line x1="103.25" y1="596.25" x2="108.25" y2="596.25" stroke="#000" stroke-width="1.1" />
<rect x="121.25" y="578" width="7" height="48.6" fill="#777" />
<line x1="124.75" y1="570.5" x2="124.75" y2="585.5" stroke="#000" stroke-width="1.1" />
<line x1="122.25" y1="570.5" x2="127.25" y2="570.5" stroke="#000" stroke-width="1.1" />
<line x1="122.25" y1="585.5" x2="127.25" y2="585.5" stroke="#000" stroke-width="1.1" />
<rect x="128.25" y="597.5" width="7.25" height="29.1" fill="#000" />
<line x1="131.88" y1="591.25" x2="131.88" y2="603.75" stroke="#000" stroke-width="1.1" />
<line x1="129.38" y1="591.25" x2="134.38" y2="591.25" stroke="#000" stroke-width="1.1" />
<line x1="129.38" y1="603.75" x2="134.38" y2="603.75" stroke="#000" stroke-width="1.1" />
<rect x="147" y="564.5" width="7.25" height="62.1" fill="#777" />
<line x1="150.62" y1="552.5" x2="150.62" y2="576.25" stroke="#000" stroke-width="1.1" />
<line x1="148.12" y1="552.5" x2="153.12" y2="552.5" stroke="#000" stroke-width="1.1" />
<line x1="148.12" y1="576.25" x2="153.12" y2="576.25" stroke="#000" stroke-width="1.1" />
<rect x="154.25" y="577" width="7.5" height="49.6" fill="#000" />
<line x1="158" y1="568.25" x2="158" y2="585.75" stroke="#000" stroke-width="1.1" />
<line x1="155.5" y1="568.25" x2="160.5" y2="568.25" stroke="#000" stroke-width="1.1" />
<line x1="155.5" y1="585.75" x2="160.5" y2="585.75" stroke="#000" stroke-width="1.1" />
<rect x="172.5" y="606.25" width="7.5" height="20.35" fill="#777" />
<line x1="176.25" y1="601.75" x2="176.25" y2="610.5" stroke="#000" stroke-width="1.1" />
<line x1="173.75" y1="601.75" x2="178.75" y2="601.75" stroke="#000" stroke-width="1.1" />
<line x1="173.75" y1="610.5" x2="178.75" y2="610.5" stroke="#000" stroke-width="1.1" />
<rect x="180" y="591.25" width="7" height="35.35" fill="#000" />
<line x1="183.5" y1="578.75" x2="183.5" y2="600" stroke="#000" stroke-width="1.1" />
<line x1="181" y1="578.75" x2="186" y2="578.75" stroke="#000" stroke-width="1.1" />
<line x1="181" y1="600" x2="186" y2="600" stroke="#000" stroke-width="1.1" />
<rect x="224.5" y="602" width="7.5" height="24.6" fill="#777" />
<line x1="228.25" y1="595.5" x2="228.25" y2="608.75" stroke="#000" stroke-width="1.1" />
<line x1="225.75" y1="595.5" x2="230.75" y2="595.5" stroke="#000" stroke-width="1.1" />
<line x1="225.75" y1="608.75" x2="230.75" y2="608.75" stroke="#000" stroke-width="1.1" />
<rect x="232" y="525" width="7.5" height="101.6" fill="#000" />
<line x1="235.75" y1="514.5" x2="235.75" y2="535.5" stroke="#000" stroke-width="1.1" />
<line x1="233.25" y1="514.5" x2="238.25" y2="514.5" stroke="#000" stroke-width="1.1" />
<line x1="233.25" y1="535.5" x2="238.25" y2="535.5" stroke="#000" stroke-width="1.1" />
<rect x="250" y="609.5" width="7.5" height="17.1" fill="#777" />
<line x1="253.75" y1="605.5" x2="253.75" y2="613.75" stroke="#000" stroke-width="1.1" />
<line x1="251.25" y1="605.5" x2="256.25" y2="605.5" stroke="#000" stroke-width="1.1" />
<line x1="251.25" y1="613.75" x2="256.25" y2="613.75" stroke="#000" stroke-width="1.1" />
<rect x="257.5" y="546.25" width="7.5" height="80.35" fill="#000" />
<line x1="261.25" y1="528.25" x2="261.25" y2="563.75" stroke="#000" stroke-width="1.1" />
<line x1="258.75" y1="528.25" x2="263.75" y2="528.25" stroke="#000" stroke-width="1.1" />
<line x1="258.75" y1="563.75" x2="263.75" y2="563.75" stroke="#000" stroke-width="1.1" />
<line x1="204.5" y1="522" x2="204.5" y2="618.5" stroke="#9a9a9a" stroke-width="3" />
<path d="M200.5,617.5 L208.5,617.5 L204.5,625.5 Z" stroke="none" stroke-width="1" fill="#9a9a9a" />
<text x="195" y="510.3" font-size="9.5" fill="#333" stroke="#333" stroke-width="0.22" >p<tspan font-size="5.9" dy="-2.2">TAL1</tspan></text>
<circle cx="231.4" cy="505" r="1.05" fill="#222"/>
<circle cx="235.5" cy="505" r="1.05" fill="#222"/>
<circle cx="239.6" cy="505" r="1.05" fill="#222"/>
<circle cx="255.15" cy="518.4" r="1.05" fill="#222"/>
<circle cx="259.25" cy="518.4" r="1.05" fill="#222"/>
<circle cx="263.35" cy="518.4" r="1.05" fill="#222"/>
<circle cx="267.45" cy="518.4" r="1.05" fill="#222"/>
<rect x="77" y="485.75" width="6.75" height="6.75" fill="#777" />
<text x="86.3" y="493" font-size="10.4" fill="#222" stroke="#222" stroke-width="0.22" textLength="76.5" lengthAdjust="spacingAndGlyphs" >HPB-ALL (<tspan font-style="italic">TAL1</tspan>-)</text>
<rect x="77" y="502.5" width="6.75" height="6.75" fill="#000" />
<text x="85.8" y="509.3" font-size="10.4" fill="#222" stroke="#222" stroke-width="0.22" textLength="68.7" lengthAdjust="spacingAndGlyphs" >Jurkat  (<tspan font-style="italic">TAL1</tspan>+)</text>
<text x="74.8" y="640" font-size="9.6" text-anchor="middle" fill="#222" stroke="#222" stroke-width="0.22" >+64</text>
<text x="100" y="640" font-size="9.6" font-weight="bold" text-anchor="middle" fill="#222" stroke="#222" stroke-width="0.25" >+51</text>
<text x="127.5" y="640" font-size="9.6" text-anchor="middle" fill="#222" stroke="#222" stroke-width="0.22" >+46</text>
<text x="153.8" y="640" font-size="9.6" font-weight="bold" text-anchor="middle" fill="#222" stroke="#222" stroke-width="0.25" >+19</text>
<text x="180" y="640" font-size="9.6" text-anchor="middle" fill="#222" stroke="#222" stroke-width="0.22" >+15</text>
<text x="230" y="640" font-size="9.6" font-weight="bold" text-anchor="middle" fill="#222" stroke="#222" stroke-width="0.25" >-8</text>
<text x="256.5" y="640" font-size="9.6" font-weight="bold" text-anchor="middle" fill="#222" stroke="#222" stroke-width="0.25" >-10</text>
<path d="M222,643.1 V654.2 H238.7 V663.6" stroke="#000" stroke-width="1.7" fill="none" />
<path d="M234.6,659.4 L238.7,664.2 L242.8,659.4" stroke="#000" stroke-width="1.7" fill="none" />
<text x="191.3" y="678.3" font-size="10.3" font-weight="bold" fill="#111" stroke="#111" stroke-width="0.25" textLength="96.5" lengthAdjust="spacingAndGlyphs" >Jurkat enhancer (-7)</text>
<text x="286.4" y="483" font-size="16" font-weight="bold" stroke="#000" stroke-width="0.25" >F</text>
<line x1="362.8" y1="484.3" x2="362.8" y2="626.4" stroke="#111" stroke-width="1.2" />
<line x1="359.6" y1="626.4" x2="362.8" y2="626.4" stroke="#111" stroke-width="1" />
<text x="352.2" y="630" font-size="10.3" text-anchor="end" fill="#222" stroke="#222" stroke-width="0.22" >0</text>
<line x1="359.6" y1="597.98" x2="362.8" y2="597.98" stroke="#111" stroke-width="1" />
<text x="352.2" y="601.58" font-size="10.3" text-anchor="end" fill="#222" stroke="#222" stroke-width="0.22" >0.1</text>
<line x1="359.6" y1="569.56" x2="362.8" y2="569.56" stroke="#111" stroke-width="1" />
<text x="352.2" y="573.16" font-size="10.3" text-anchor="end" fill="#222" stroke="#222" stroke-width="0.22" >0.2</text>
<line x1="359.6" y1="541.14" x2="362.8" y2="541.14" stroke="#111" stroke-width="1" />
<text x="352.2" y="544.74" font-size="10.3" text-anchor="end" fill="#222" stroke="#222" stroke-width="0.22" >0.3</text>
<line x1="359.6" y1="512.72" x2="362.8" y2="512.72" stroke="#111" stroke-width="1" />
<text x="352.2" y="516.32" font-size="10.3" text-anchor="end" fill="#222" stroke="#222" stroke-width="0.22" >0.4</text>
<line x1="359.6" y1="484.3" x2="362.8" y2="484.3" stroke="#111" stroke-width="1" />
<text x="352.2" y="487.9" font-size="10.3" text-anchor="end" fill="#222" stroke="#222" stroke-width="0.22" >0.5</text>
<line x1="362.8" y1="626.4" x2="504.4" y2="626.4" stroke="#111" stroke-width="1.3" />
<text transform="translate(311.7,555.9) rotate(-90)" font-size="8.6" text-anchor="middle" fill="#222" stroke="#222" stroke-width="0.22" textLength="86" lengthAdjust="spacingAndGlyphs" >Normalized Relative</text>
<text transform="translate(324.6,555.9) rotate(-90)" font-size="8.6" text-anchor="middle" fill="#222" stroke="#222" stroke-width="0.22" textLength="81.5" lengthAdjust="spacingAndGlyphs" >Ligation Frequency</text>
<rect x="406.2" y="598.7" width="10.3" height="27.7" fill="#777" />
<line x1="411.35" y1="595.6" x2="411.35" y2="602.5" stroke="#000" stroke-width="1.1" />
<line x1="408.85" y1="595.6" x2="413.85" y2="595.6" stroke="#000" stroke-width="1.1" />
<line x1="408.85" y1="602.5" x2="413.85" y2="602.5" stroke="#000" stroke-width="1.1" />
<rect x="416.5" y="587.9" width="10.3" height="38.5" fill="#000" />
<line x1="421.65" y1="568.3" x2="421.65" y2="607.7" stroke="#000" stroke-width="1.1" />
<line x1="419.15" y1="568.3" x2="424.15" y2="568.3" stroke="#000" stroke-width="1.1" />
<line x1="419.15" y1="607.7" x2="424.15" y2="607.7" stroke="#000" stroke-width="1.1" />
<rect x="442.2" y="569.6" width="10" height="56.8" fill="#777" />
<line x1="447.2" y1="558.8" x2="447.2" y2="580.7" stroke="#000" stroke-width="1.1" />
<line x1="444.7" y1="558.8" x2="449.7" y2="558.8" stroke="#000" stroke-width="1.1" />
<line x1="444.7" y1="580.7" x2="449.7" y2="580.7" stroke="#000" stroke-width="1.1" />
<rect x="452.2" y="513.8" width="10.3" height="112.6" fill="#000" />
<line x1="457.35" y1="485.6" x2="457.35" y2="542.1" stroke="#000" stroke-width="1.1" />
<line x1="454.85" y1="485.6" x2="459.85" y2="485.6" stroke="#000" stroke-width="1.1" />
<line x1="454.85" y1="542.1" x2="459.85" y2="542.1" stroke="#000" stroke-width="1.1" />
<rect x="477.4" y="593" width="10.3" height="33.4" fill="#777" />
<line x1="482.55" y1="585.3" x2="482.55" y2="601.2" stroke="#000" stroke-width="1.1" />
<line x1="480.05" y1="585.3" x2="485.05" y2="585.3" stroke="#000" stroke-width="1.1" />
<line x1="480.05" y1="601.2" x2="485.05" y2="601.2" stroke="#000" stroke-width="1.1" />
<rect x="487.7" y="588.4" width="9.8" height="38" fill="#000" />
<line x1="492.6" y1="579.9" x2="492.6" y2="596.6" stroke="#000" stroke-width="1.1" />
<line x1="490.1" y1="579.9" x2="495.1" y2="579.9" stroke="#000" stroke-width="1.1" />
<line x1="490.1" y1="596.6" x2="495.1" y2="596.6" stroke="#000" stroke-width="1.1" />
<line x1="388" y1="522" x2="388" y2="618.7" stroke="#9a9a9a" stroke-width="3" />
<path d="M384,617.7 L392,617.7 L388,625.7 Z" stroke="none" stroke-width="1" fill="#9a9a9a" />
<text x="379" y="510.2" font-size="9.5" fill="#333" stroke="#333" stroke-width="0.22" >p<tspan font-size="5.9" dy="-2.2">TAL1</tspan></text>
<circle cx="457.4" cy="475.8" r="1.05" fill="#222"/>
<rect x="469.2" y="485.6" width="6.9" height="6.4" fill="#777" />
<text x="478.7" y="492.6" font-size="10.4" fill="#222" stroke="#222" stroke-width="0.22" textLength="39.3" lengthAdjust="spacingAndGlyphs" >HPB-ALL</text>
<rect x="469.2" y="502.3" width="6.9" height="6.4" fill="#000" />
<text x="478.7" y="508.8" font-size="10.4" fill="#222" stroke="#222" stroke-width="0.22" textLength="28.3" lengthAdjust="spacingAndGlyphs" >Jurkat</text>
<text x="415.6" y="641" font-size="9.6" text-anchor="middle" fill="#222" stroke="#222" stroke-width="0.22" >-72</text>
<text x="451.5" y="641" font-size="9.6" font-weight="bold" text-anchor="middle" fill="#222" stroke="#222" stroke-width="0.25" >-81</text>
<text x="487.5" y="641" font-size="9.6" text-anchor="middle" fill="#222" stroke="#222" stroke-width="0.22" >-85</text>
<text x="441.3" y="654.2" font-size="10.4" font-weight="bold" fill="#111" stroke="#111" stroke-width="0.25" textLength="17.2" lengthAdjust="spacingAndGlyphs" >TAL</text>
<text x="458.9" y="651.7" font-size="6.6" font-weight="bold" fill="#111" stroke="#111" stroke-width="0.25" >d</text></svg>
</body></html>
